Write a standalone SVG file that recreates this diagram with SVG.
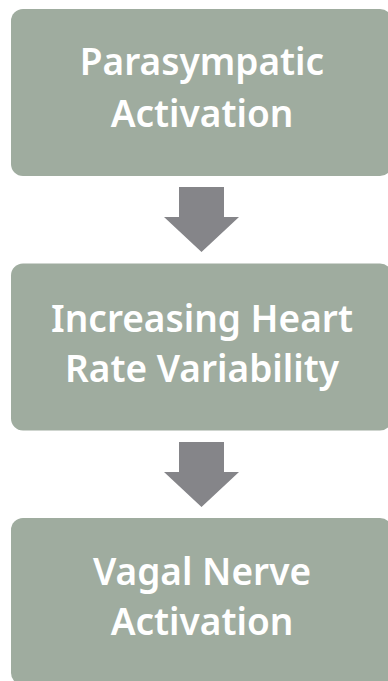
<svg xmlns="http://www.w3.org/2000/svg" width="388" height="681" viewBox="0 0 388 681">
<style>
.box{fill:#9fac9f}
.lbl{fill:#ffffff;font-family:"Noto Sans","Open Sans",sans-serif;font-weight:600;font-size:37px;text-anchor:middle}
.arr{fill:#858589}
</style>
<rect width="388" height="681" fill="#ffffff"/>
<g id="connectors">
<polygon class="arr" points="179,187 224,187 224,217 239,217 201.5,252 164,217 179,217"/>
<polygon class="arr" points="179,442 224,442 224,472 239,472 201.5,507 164,472 179,472"/>
</g>
<g id="node1">
<rect class="box" x="11" y="9" width="381" height="167" rx="12"/>
<text class="lbl" x="202" y="75">Parasympatic</text>
<text class="lbl" x="202" y="127">Activation</text>
</g>
<g id="node2">
<rect class="box" x="11" y="263.5" width="381" height="167" rx="12"/>
<text class="lbl" x="202" y="332">Increasing Heart</text>
<text class="lbl" x="202" y="382">Rate Variability</text>
</g>
<g id="node3">
<rect class="box" x="11" y="518" width="381" height="167" rx="12"/>
<text class="lbl" x="202" y="585">Vagal Nerve</text>
<text class="lbl" x="202" y="635">Activation</text>
</g>
</svg>
